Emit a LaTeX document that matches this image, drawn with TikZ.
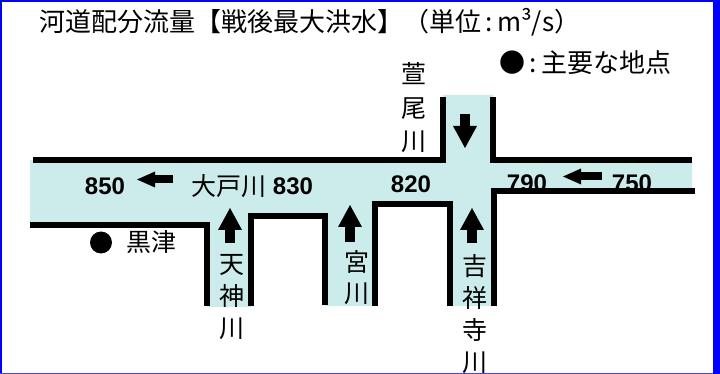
\documentclass[tikz,border=0pt]{standalone}
\usepackage{fontspec}
\newfontfamily\jpfont{Noto Sans CJK JP}
\setsansfont{Liberation Sans}
\usetikzlibrary{arrows.meta}
\definecolor{water}{RGB}{204,236,236}
\definecolor{framebl}{RGB}{0,0,255}
\definecolor{framebot}{RGB}{70,70,230}

\begin{document}
\begin{tikzpicture}[
  x=1pt, y=-1pt,
  wall/.style={draw=black, line width=5.5pt},
  flowv/.style={line width=10pt, -{Triangle[length=22pt,width=24pt,line width=0pt]}},
  flowh/.style={line width=8pt, -{Triangle[length=18pt,width=16pt,line width=0pt]}},
  qty/.style={font=\sffamily\bfseries\fontsize{24}{24}\selectfont, inner sep=0pt},
  jp/.style={font=\jpfont\fontsize{25}{25}\selectfont, inner sep=0pt},
  head/.style={font=\jpfont\fontsize{26}{26}\selectfont, inner sep=0pt, anchor=west},
  vlabel/.style={font=\jpfont\fontsize{25}{32}\selectfont, align=center, inner sep=0pt}
]
  \useasboundingbox (0,0) rectangle (720,374);
  \fill[framebl] (0,0) rectangle (720,374);
  \fill[framebot] (0,372.5) rectangle (713,374);
  \fill[white] (1.5,2.2) rectangle (713,372.5);

  \fill[water] (30,160) -- (443,160) -- (443,95) -- (493,95) -- (493,160)
    -- (692,160) -- (692,191) -- (494,191) -- (494,306) -- (450,306)
    -- (450,204) -- (375,204) -- (375,306) -- (325,306) -- (325,216)
    -- (251,216) -- (251,307) -- (207,307) -- (207,225) -- (30,225) -- cycle;

  \node[head] (title) at (39,22) {河道配分流量【戦後最大洪水】（単位\,:\,m³/s）};
  \node[head] (legend) at (499,63) {●\,:\,主要な地点};

  \node[vlabel, font=\jpfont\fontsize{25}{33.5}\selectfont] (kayao) at (414,108) {萱\\尾\\川};
  \node[jp] (otokawa) at (229,186) {大戸川};
  \node[circle, fill=black, minimum size=22pt, inner sep=0pt] (kurotsu-pt) at (101,242.5) {};
  \node[jp] (kurotsu) at (151,242) {黒津};
  \node[vlabel] (tenjin) at (232,297.5) {天\\神\\川};
  \node[vlabel, font=\jpfont\fontsize{25}{31}\selectfont] (miya) at (357,277.5) {宮\\川};
  \node[vlabel] (kichijoji) at (475,314.5) {吉\\祥\\寺\\川};

  \node[qty] (q850) at (105,186.5) {850};
  \node[qty] (q830) at (293,186) {830};
  \node[qty] (q820) at (411,184) {820};
  \node[qty] (q790) at (527,183.5) {790};
  \node[qty] (q750) at (632,183.5) {750};

  \coordinate (kayao-s) at (465,114);
  \coordinate (kayao-e) at (465,148);
  \coordinate (tenjin-s) at (230,243);
  \coordinate (tenjin-e) at (230,208);
  \coordinate (miya-s) at (350,242);
  \coordinate (miya-e) at (350,205);
  \coordinate (kichi-s) at (472,243);
  \coordinate (kichi-e) at (472,208);
  \coordinate (main-s) at (173,179.5);
  \coordinate (main-e) at (137,179.5);
  \coordinate (upper-s) at (602,176.5);
  \coordinate (upper-e) at (563,176.5);

  \draw[flowv] (kayao-s) -- (kayao-e);
  \draw[flowv] (tenjin-s) -- (tenjin-e);
  \draw[flowv] (miya-s) -- (miya-e);
  \draw[flowv] (kichi-s) -- (kichi-e);
  \draw[flowh] (main-s) -- (main-e);
  \draw[flowh] (upper-s) -- (upper-e);

  \draw[wall] (33,160) -- (443,160) -- (443,97);
  \draw[wall] (493,97) -- (493,160) -- (692,160);
  \draw[wall] (695,191) -- (494,191) -- (494,306);
  \draw[wall] (450,306) -- (450,204) -- (375,204) -- (375,306);
  \draw[wall] (325,305) -- (325,216) -- (251,216) -- (251,306);
  \draw[wall] (30,225) -- (207,225) -- (207,306);
\end{tikzpicture}
\end{document}
